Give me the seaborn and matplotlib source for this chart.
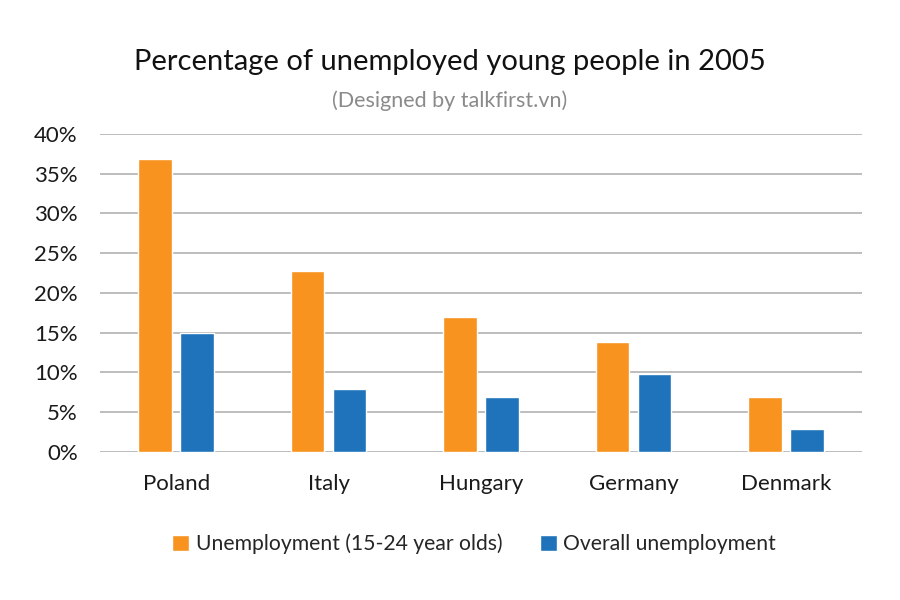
import pandas as pd
import seaborn as sns
import matplotlib.pyplot as plt
from matplotlib.ticker import FuncFormatter

countries = ["Poland", "Italy", "Hungary", "Germany", "Denmark"]
youth_unemployment = [36.8, 22.7, 16.9, 13.8, 6.9]
overall_unemployment = [15.0, 7.9, 6.9, 9.8, 2.9]
series_names = ["Unemployment (15-24 year olds)", "Overall unemployment"]
colors = ["#F7931E", "#1F73BA"]

df = pd.DataFrame({
    "country": countries * 2,
    "value": youth_unemployment + overall_unemployment,
    "series": [series_names[0]] * len(countries) + [series_names[1]] * len(countries),
})

sns.set_theme(style="white")
plt.rcParams["font.family"] = ["Lato", "DejaVu Sans"]

fig = plt.figure(figsize=(9, 6), dpi=100)
ax = fig.add_axes([0.111, 0.247, 0.847, 0.53])

sns.barplot(
    data=df, x="country", y="value", hue="series",
    palette=colors, width=0.55, gap=0.2, saturation=1,
    ax=ax, zorder=3, legend=True,
)

ax.set_ylim(0, 40)
ax.set_xlim(-0.5, 4.5)
ax.set_yticks(range(0, 41, 5))
ax.yaxis.set_major_formatter(FuncFormatter(lambda v, _: f"{int(v)}%"))
ax.yaxis.grid(True, color="#bdbdbd", linewidth=1.4, zorder=0)
ax.set_axisbelow(True)
for s in ax.spines.values():
    s.set_visible(False)
ax.tick_params(axis="both", length=0, labelsize=16, colors="#1a1a1a")
ax.tick_params(axis="y", pad=16)
ax.tick_params(axis="x", pad=16)
ax.set_xlabel("")
ax.set_ylabel("")

fig.text(0.5, 0.897, "Percentage of unemployed young people in 2005",
         ha="center", va="center", fontsize=21, color="#111111")
fig.text(0.5, 0.832, "(Designed by talkfirst.vn)",
         ha="center", va="center", fontsize=15.5, color="#8a8a8a")

handles, labels = ax.get_legend_handles_labels()
ax.legend(handles, labels, loc="center", bbox_to_anchor=(0.527, 0.093),
          bbox_transform=fig.transFigure, ncol=2, frameon=False,
          fontsize=15.2, handlelength=0.8, handleheight=0.8,
          handletextpad=0.3, columnspacing=1.8)

fig.savefig("out.png", dpi=100)
